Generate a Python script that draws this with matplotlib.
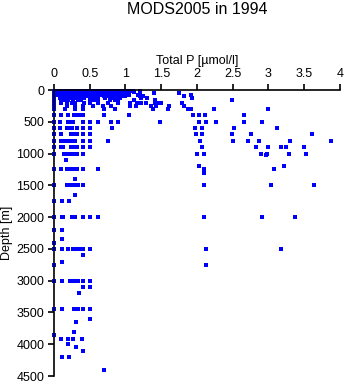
import matplotlib
matplotlib.use("Agg")
import matplotlib.pyplot as plt

# standard depths [m] and total phosphorus values [umol/l] sampled at each
depth_levels = [10, 25, 50, 75, 100, 125, 150, 200, 250, 300,
                400, 500, 600, 700, 800, 900, 1000, 1022, 1100, 1200,
                1250, 1300, 1400, 1500, 1650, 1750, 2000, 2200, 2350, 2400,
                2500, 2600, 2700, 2750, 3000, 3100, 3200, 3450, 3600, 3650,
                3800, 3850, 3920, 4000, 4050, 4100, 4200, 4400]

p_values = [
    [0, 0.02, 0.05, 0.08, 0.1, 0.12, 0.14, 0.16, 0.18, 0.2, 0.22, 0.25, 0.28,
     0.3, 0.33, 0.36, 0.4, 0.43, 0.46, 0.5, 0.55, 0.6, 0.65, 0.7, 0.75, 0.8,
     0.85, 0.9, 0.95, 1.0, 1.05, 1.1, 1.2],
    [0, 0.04, 0.08, 0.11, 0.15, 0.19, 0.23, 0.27, 0.31, 0.35, 0.38, 0.42,
     0.47, 0.52, 0.58, 0.63, 0.68, 0.72, 0.78, 0.83, 0.88, 0.93, 0.98, 1.04,
     1.12, 1.2],
    [0, 0.03, 0.07, 0.12, 0.17, 0.21, 0.26, 0.3, 0.34, 0.39, 0.44, 0.49, 0.53,
     0.6, 0.66, 0.74, 0.8, 0.87, 0.95, 1.05, 1.4, 1.75],
    [0, 0.06, 0.1, 0.14, 0.18, 0.22, 0.27, 0.31, 0.36, 0.41, 0.46, 0.52, 0.57,
     0.64, 0.7, 0.77, 0.85, 0.92, 1.05, 1.18, 1.92],
    [0, 0.08, 0.13, 0.17, 0.22, 0.26, 0.3, 0.35, 0.4, 0.45, 0.5, 0.56, 0.62,
     0.7, 0.76, 0.82, 0.9, 0.95, 1.0, 1.2, 1.25, 1.82],
    [0, 0.09, 0.15, 0.2, 0.25, 0.3, 0.36, 0.42, 0.5, 0.55, 0.62, 0.72, 0.8,
     0.86, 0.92, 1.22, 1.3, 1.93],
    [0, 0.1, 0.14, 0.2, 0.27, 0.33, 0.38, 0.5, 0.56, 0.62, 0.78, 0.85, 0.9,
     1.12, 1.41, 2.49],
    [0, 0.1, 0.18, 0.25, 0.3, 0.42, 0.5, 0.62, 0.76, 0.9, 1.06, 1.16, 1.22,
     1.28, 1.41, 1.45, 1.5, 1.79],
    [0, 0.18, 0.3, 0.41, 0.55, 0.68, 0.8, 1.06, 1.15, 1.36, 1.43, 1.61, 1.82],
    [0, 0.16, 0.3, 0.41, 0.7, 0.85, 1.39, 1.6, 1.88, 1.91, 2.24, 3.0],
    [0, 0.1, 0.19, 0.28, 0.31, 0.35, 0.41, 0.7, 1.05, 1.95, 2.03, 2.11, 2.66],
    [0, 0.09, 0.19, 0.23, 0.27, 0.4, 0.5, 0.61, 0.8, 0.9, 1.48, 2.03, 2.12,
     2.26, 2.66, 2.91],
    [0, 0.09, 0.18, 0.21, 0.25, 0.32, 0.41, 0.51, 0.81, 1.97, 2.07, 2.52, 3.12],
    [0, 0.1, 0.24, 0.28, 0.32, 0.41, 0.51, 1.99, 2.07, 2.49, 2.76, 3.61],
    [0, 0.1, 0.14, 0.18, 0.24, 0.3, 0.41, 0.51, 0.76, 2.04, 2.51, 2.72, 2.87,
     3.30, 3.88],
    [0, 0.1, 0.13, 0.24, 0.28, 0.32, 0.41, 0.51, 2.07, 2.82, 2.99, 3.17, 3.24,
     3.49],
    [0, 0.14, 0.18, 0.22, 0.27, 0.32, 0.41, 2.0, 2.10, 2.90, 2.98, 3.28, 3.53],
    [2.96],
    [0.17],
    [2.03, 3.22],
    [0, 0.1, 0.18, 0.22, 0.26, 0.3, 0.32, 0.41, 0.61, 2.10, 3.08],
    [2.10],
    [0.3],
    [0, 0.18, 0.23, 0.28, 0.34, 0.41, 2.10, 3.03, 3.64],
    [0.3],
    [0, 0.11, 0.21],
    [0, 0.11, 0.13, 0.25, 0.29, 0.4, 0.5, 0.61, 2.10, 2.91, 3.37],
    [0, 0.11],
    [0.11],
    [0],
    [0, 0.11, 0.2, 0.26, 0.31, 0.36, 0.41, 0.5, 2.13, 3.18],
    [0.4],
    [0.11],
    [0, 2.12],
    [0, 0.11, 0.22, 0.28, 0.32, 0.34, 0.41, 0.5],
    [0.4, 0.5],
    [0.35],
    [0, 0.11, 0.28, 0.34, 0.41, 0.5],
    [0.5],
    [0.31],
    [0.28],
    [0],
    [0.1, 0.2, 0.26, 0.39],
    [0.2],
    [0.31],
    [0.41],
    [0.11, 0.21],
    [0.7],
]

x_ticks = [0, 0.5, 1, 1.5, 2, 2.5, 3, 3.5, 4]
x_tick_labels = ["0", "0.5", "1", "1.5", "2", "2.5", "3", "3.5", "4"]
y_ticks = [0, 500, 1000, 1500, 2000, 2500, 3000, 3500, 4000, 4500]

plt.rcParams['font.family'] = ['Liberation Sans', 'DejaVu Sans']

xs = []
ys = []
for d, vals in zip(depth_levels, p_values):
    for v in vals:
        xs.append(v)
        ys.append(d)

fig = plt.figure(figsize=(3.45, 3.84), dpi=100)
ax = fig.add_axes([0.1565, 0.0208, 0.829, 0.7448])
ax.plot(xs, ys, linestyle='none', marker='s', markersize=2.2,
        color='#0000ff', markeredgewidth=0, clip_on=False)

ax.set_xlim(0, 4)
ax.set_ylim(4500, 0)
ax.xaxis.tick_top()
ax.xaxis.set_label_position('top')
ax.set_xticks(x_ticks)
ax.set_xticklabels(x_tick_labels)
ax.set_yticks(y_ticks)
ax.tick_params(axis='both', labelsize=9, length=4, width=1.2, pad=3)
ax.set_xlabel("Total P [µmol/l]", fontsize=9, labelpad=3)
ax.set_ylabel("Depth [m]", fontsize=9, labelpad=2)
for side in ['right', 'bottom']:
    ax.spines[side].set_visible(False)
for side in ['top', 'left']:
    ax.spines[side].set_linewidth(1.2)

fig.text(0.571, 0.976, "MODS2005 in 1994", ha='center', va='center',
         fontsize=11.5)

fig.savefig("out.png", dpi=100)
